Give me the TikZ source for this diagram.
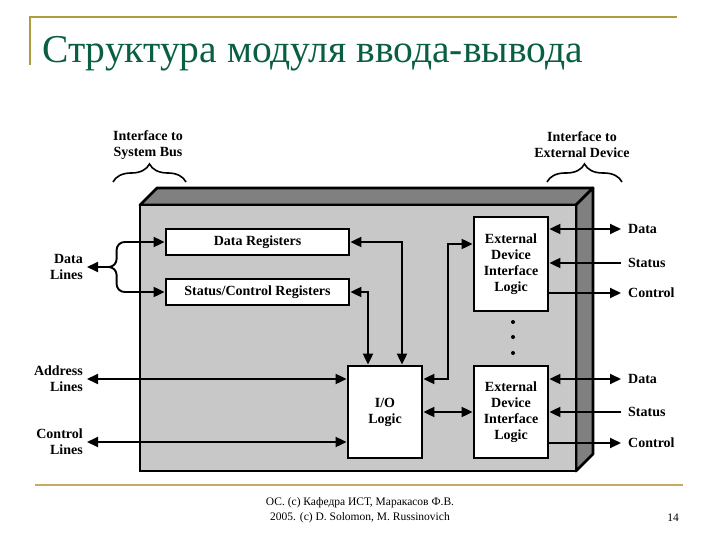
\documentclass[tikz,border=0pt]{standalone}
\usepackage{fontspec}
\setmainfont{Liberation Serif}
\usetikzlibrary{arrows.meta,decorations.pathreplacing}
\definecolor{titlegreen}{RGB}{10,95,65}
\definecolor{rulegold}{RGB}{176,156,64}
\definecolor{rulesand}{RGB}{200,168,100}
\definecolor{frontgray}{RGB}{200,200,200}
\definecolor{sidegray}{RGB}{128,128,128}
\begin{document}
\begin{tikzpicture}[x=1pt,y=-1pt,
  >={Triangle[length=11pt,width=10pt]},
  lbl/.style={font=\fontsize{14}{16}\selectfont\bfseries, align=center, inner sep=1pt},
  box/.style={draw, line width=2.8pt, fill=white, font=\fontsize{14}{16}\selectfont\bfseries, align=center, inner sep=0pt},
  conn/.style={line width=1.9pt},
  llab/.style={lbl, anchor=east, align=right, inner xsep=4pt},
  rlab/.style={lbl, anchor=west, inner xsep=7pt},
  brc/.style={decorate, decoration={brace, amplitude=18pt}, line width=1.6pt},
  dot/.style={circle, fill, inner sep=0pt, minimum size=4pt}
]
\useasboundingbox (0,0) rectangle (720,540);

% slide decoration
\draw[rulegold, line width=2pt] (30,65) -- (30,17) -- (677,17);
\draw[rulesand, line width=2pt] (35,485) -- (683,485);
\node[anchor=base west, inner sep=0pt, text=titlegreen, font=\fontsize{39.5}{42}\selectfont] (title) at (42,63) {Структура модуля ввода-вывода};
\node[font=\fontsize{11.5}{15}\selectfont, align=center, inner sep=0pt] (foot) at (360,510.5) {ОС. (с) Кафедра ИСТ, Маракасов Ф.В.\\ 2005. (с) D. Solomon, M. Russinovich};
\node[font=\fontsize{11.5}{15}\selectfont, inner sep=0pt] (pnum) at (673,518) {14};

% 3D module box
\draw[line width=2.8pt, line join=round, fill=sidegray] (140,205) -- (157,188) -- (593,188) -- (576,205) -- cycle;
\draw[line width=2.8pt, line join=round, fill=sidegray] (576,205) -- (593,188) -- (593,454) -- (576,471) -- cycle;
\draw[line width=2.8pt, fill=frontgray] (140,205) rectangle (576,471);

% braces and their labels
\node[lbl] (sysbus) at (148,145) {Interface to\\System Bus};
\node[lbl] (extdev) at (582,145) {Interface to\\External Device};
\draw[brc] (113,182) -- (186,182);
\draw[brc] (547,182) -- (622,182);

% inner boxes
\node[box, minimum width=183, minimum height=26] (dr) at (257.5,242) {Data Registers};
\node[box, minimum width=183, minimum height=26] (scr) at (257.5,292) {Status/Control Registers};
\node[box, minimum width=74, minimum height=92] (io) at (385,412) {I/O\\Logic};
\node[box, minimum width=74, minimum height=94] (ed1) at (511,264) {External\\Device\\Interface\\Logic};
\node[box, minimum width=74, minimum height=92] (ed2) at (511,412) {External\\Device\\Interface\\Logic};
\node[dot] (d1) at (513,322) {};
\node[dot] (d2) at (513,337) {};
\node[dot] (d3) at (513,353) {};

% left labels
\node[llab] (dl) at (87,267) {Data\\Lines};
\node[llab] (al) at (87,379) {Address\\Lines};
\node[llab] (cl) at (87,442) {Control\\Lines};

% right labels
\node[rlab] (r1d) at (621,229) {Data};
\node[rlab] (r1s) at (621,263) {Status};
\node[rlab] (r1c) at (621,293) {Control};
\node[rlab] (r2d) at (621,379) {Data};
\node[rlab] (r2s) at (621,412) {Status};
\node[rlab] (r2c) at (621,443) {Control};

% connectors
\coordinate (fork) at (110,267);
\draw[conn, ->] (fork) -- (dl.east);
\draw[conn, ->, rounded corners=8pt] (fork) -| ([xshift=-48pt]dr.west) -- (dr.west);
\draw[conn, ->, rounded corners=8pt] (fork) -| ([xshift=-48pt]scr.west) -- (scr.west);
\draw[conn, <->] (al.east) -- (al.east -| io.west);
\draw[conn, <->] (cl.east) -- (cl.east -| io.west);
\draw[conn, <->] (dr.east) -| ([xshift=17pt]io.north);
\draw[conn, <->] (scr.east) -| ([xshift=-17pt]io.north);
\draw[conn, <->] (io.east |- al.east) -- ++(25,0) |- ([yshift=20pt]ed1.west);
\draw[conn, <->] (io.east) -- (ed2.west);

\draw[conn, <->] (ed1.east |- r1d.west) -- (r1d.west);
\draw[conn, ->] (r1s.west) -- (ed1.east |- r1s.west);
\draw[conn, ->] (ed1.east |- r1c.west) -- (r1c.west);
\draw[conn, <->] (ed2.east |- r2d.west) -- (r2d.west);
\draw[conn, ->] (r2s.west) -- (ed2.east |- r2s.west);
\draw[conn, ->] (ed2.east |- r2c.west) -- (r2c.west);
\end{tikzpicture}
\end{document}
